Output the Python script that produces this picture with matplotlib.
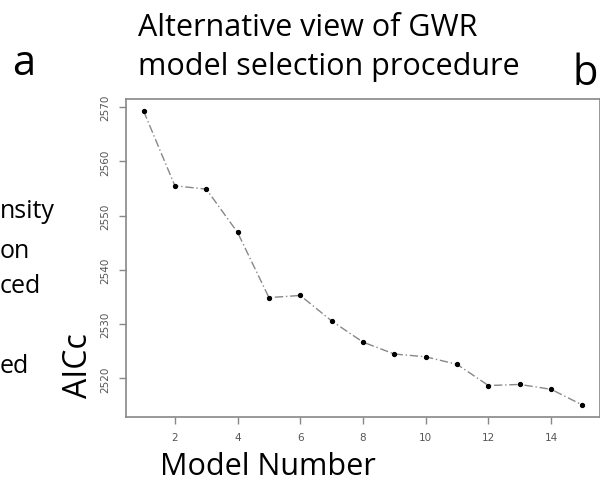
import matplotlib
matplotlib.use('Agg')
import matplotlib.pyplot as plt

plt.rcParams['font.family'] = ['Open Sans', 'DejaVu Sans']

model_number = [1, 2, 3, 4, 5, 6, 7, 8, 9, 10, 11, 12, 13, 14, 15]
aicc = [2569.3, 2555.5, 2554.9, 2546.9, 2534.9, 2535.3, 2530.6, 2526.7,
        2524.5, 2524.0, 2522.6, 2518.7, 2518.9, 2518.0, 2515.1]
x_ticks = [2, 4, 6, 8, 10, 12, 14]
y_ticks = [2520, 2530, 2540, 2550, 2560, 2570]

fig = plt.figure(figsize=(6, 4.81), dpi=100)
W, H = 600, 481
# axes box in pixel coords: left 126, right 600, top 100, bottom 418
ax = fig.add_axes([126 / W, 1 - 418 / H, (600 - 126) / W, (418 - 100) / H])

ax.plot(model_number, aicc, color='#888888', linestyle=(0, (6, 2, 1, 2)), linewidth=1.0)
ax.plot(model_number, aicc, 'o', color='black', markersize=2.8, linestyle='none')

ax.set_xlim(0.44, 15.56)
ax.set_ylim(2512.9, 2571.5)
ax.set_xticks(x_ticks)
ax.set_yticks(y_ticks)
ax.set_xticklabels([str(t) for t in x_ticks], fontsize=7.5, color='#555555', family='DejaVu Sans')
ax.set_yticklabels([str(t) for t in y_ticks], fontsize=7.5, color='#555555', family='DejaVu Sans',
                   rotation=90, va='center')
ax.tick_params(color='#888888', length=5, width=1, pad=6)
for s in ax.spines.values():
    s.set_color('#888888')
    s.set_linewidth(1.2)

# panel text
fig.text(138 / W, 1 - 36 / H, 'Alternative view of GWR', fontsize=22, ha='left', va='baseline')
fig.text(138 / W, 1 - 75 / H, 'model selection procedure', fontsize=22, ha='left', va='baseline')
fig.text(12 / W, 1 - 75 / H, 'a', fontsize=30, ha='left', va='baseline')
fig.text(573 / W, 1 - 85 / H, 'b', fontsize=30, ha='left', va='baseline')

# cut-off text from neighbouring panel
fig.text(0 / W, 1 - 218 / H, 'nsity', fontsize=18, ha='left', va='baseline')
fig.text(0 / W, 1 - 258 / H, 'on', fontsize=18, ha='left', va='baseline')
fig.text(0 / W, 1 - 293 / H, 'ced', fontsize=18, ha='left', va='baseline')
fig.text(0 / W, 1 - 373 / H, 'ed', fontsize=18, ha='left', va='baseline')

fig.text(79 / W, 1 - 366 / H, 'AICc', fontsize=23, rotation=90, ha='center', va='center')
fig.text(160 / W, 1 - 475 / H, 'Model Number', fontsize=22, ha='left', va='baseline')

fig.savefig('out.png', dpi=100)
